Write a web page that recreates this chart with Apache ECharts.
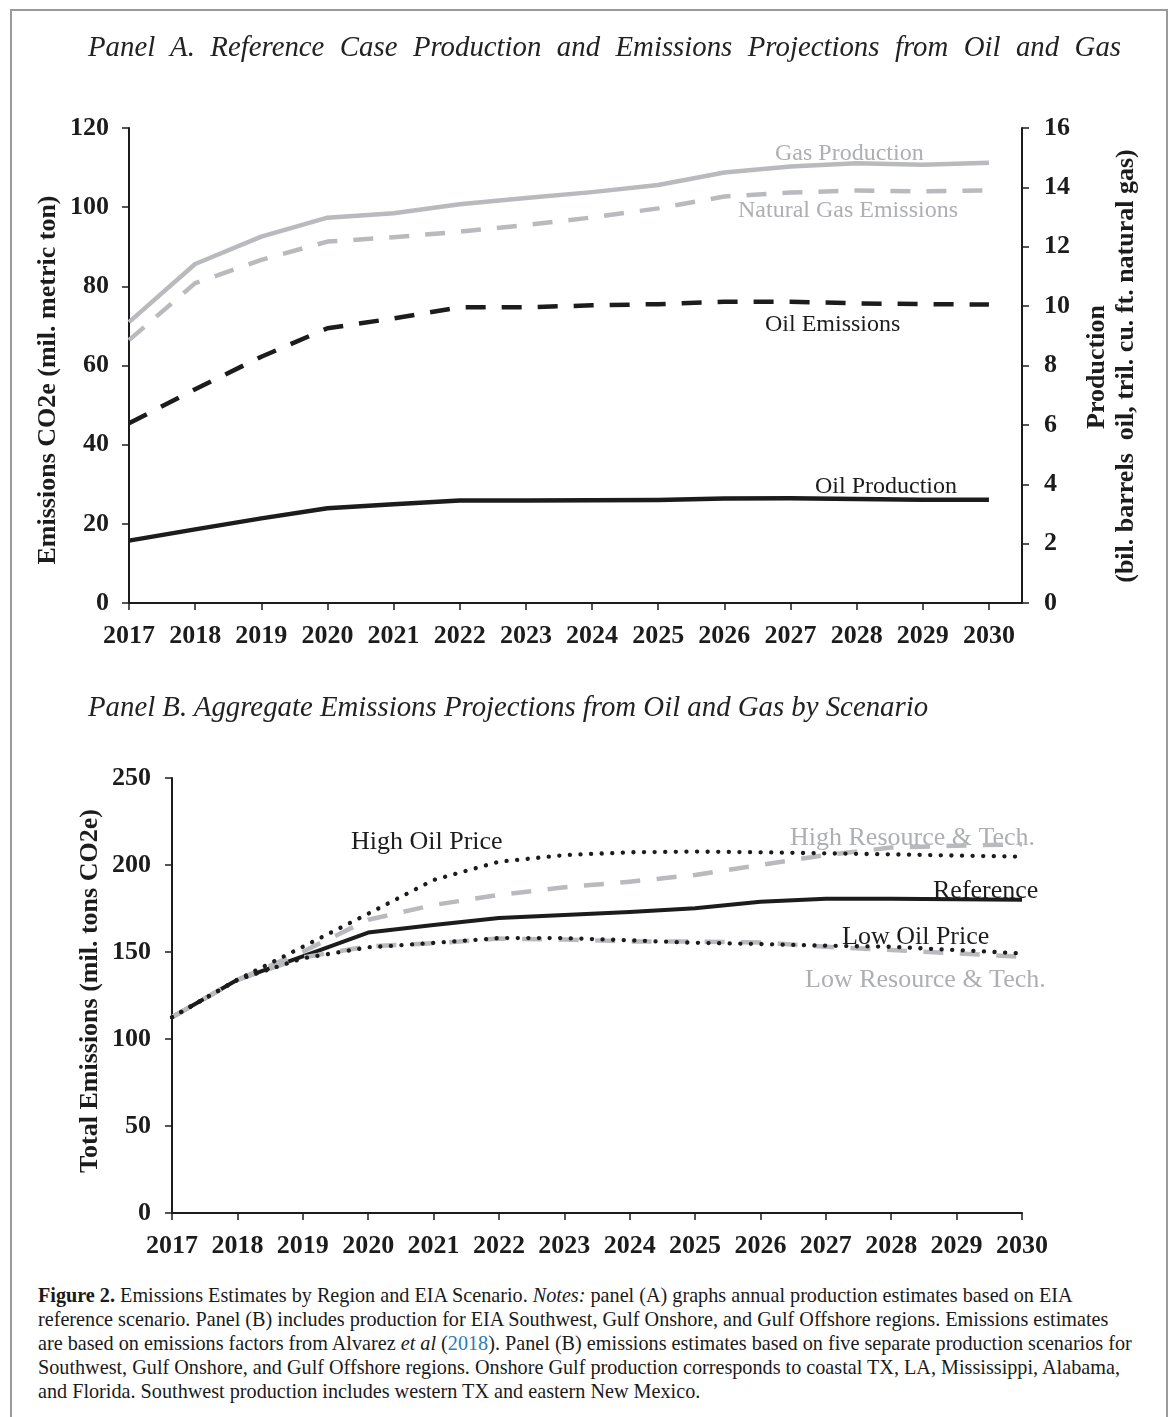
<!DOCTYPE html>
<html>
<head>
<meta charset="utf-8">
<script src="https://cdn.jsdelivr.net/npm/echarts@6/dist/echarts.min.js"></script>
<style>
  html, body { margin: 0; padding: 0; background: #fff; }
  #page { position: relative; width: 1173px; height: 1417px; overflow: hidden; background: #fff; }
  #frame { position: absolute; left: 10px; top: 9px; width: 1154px; height: 1420px;
           border-left: 2px solid #9a9a9a; border-right: 2px solid #9a9a9a; border-top: 2px solid #9a9a9a; }
  #chart { position: absolute; left: 0; top: 0; width: 1173px; height: 1280px; }
  .ptitle { position: absolute; font-family: "Liberation Serif", "DejaVu Serif", serif; font-style: italic;
            font-size: 28.8px; color: #222; white-space: nowrap; }
  #titleA { left: 88px; top: 30px; width: 1033px; text-align: justify; text-align-last: justify; }
  #titleB { left: 88px; top: 690px; }
  #caption { position: absolute; left: 38px; top: 1283px; width: 1110px; font-family: "Liberation Serif", "DejaVu Serif", serif;
             font-size: 20.2px; line-height: 24px; color: #1a1a1a; white-space: nowrap; }
  #caption a { color: #2b7bb9; text-decoration: none; }
</style>
</head>
<body>
<div id="page">
  <div id="frame"></div>
  <div id="chart"></div>
  <div id="titleA" class="ptitle">Panel A. Reference Case Production and Emissions Projections from Oil and Gas</div>
  <div id="titleB" class="ptitle">Panel B. Aggregate Emissions Projections from Oil and Gas by Scenario</div>
  <div id="caption"><b>Figure 2.</b> Emissions Estimates by Region and EIA Scenario. <i>Notes:</i> panel (A) graphs annual production estimates based on EIA<br>reference scenario. Panel (B) includes production for EIA Southwest, Gulf Onshore, and Gulf Offshore regions. Emissions estimates<br>are based on emissions factors from Alvarez <i>et al</i> (<a>2018</a>). Panel (B) emissions estimates based on five separate production scenarios for<br>Southwest, Gulf Onshore, and Gulf Offshore regions. Onshore Gulf production corresponds to coastal TX, LA, Mississippi, Alabama,<br>and Florida. Southwest production includes western TX and eastern New Mexico.</div>
</div>
<script>
// ---------- Data ----------
const years = [2017, 2018, 2019, 2020, 2021, 2022, 2023, 2024, 2025, 2026, 2027, 2028, 2029, 2030];

// Panel A (emissions: mil. metric ton CO2e, left axis; production: right axis)
const gasProduction       = [9.46, 11.42, 12.34, 12.98, 13.13, 13.43, 13.64, 13.84, 14.08, 14.50, 14.70, 14.81, 14.76, 14.83];
const naturalGasEmissions = [66.4, 80.8, 86.7, 91.3, 92.4, 93.8, 95.5, 97.4, 99.7, 102.7, 103.7, 104.2, 104.0, 104.2];
const oilEmissions        = [45.4, 54.0, 62.2, 69.4, 71.9, 74.7, 74.7, 75.2, 75.5, 76.1, 76.1, 75.7, 75.5, 75.4];
const oilProduction       = [2.10, 2.48, 2.85, 3.19, 3.33, 3.45, 3.45, 3.46, 3.47, 3.52, 3.53, 3.50, 3.48, 3.48];

// Panel B (total emissions, mil. tons CO2e)
const reference    = [112.5, 134, 147.5, 161.2, 165.5, 169.6, 171.3, 173.0, 175.1, 178.9, 180.6, 180.6, 180.3, 180.0];
const highOilPrice = [112.5, 134, 153.0, 172.0, 191.4, 201.9, 205.7, 207.3, 207.7, 207.3, 206.7, 206.1, 205.4, 204.8];
const highResource = [112.5, 134, 150.2, 168.5, 177.0, 182.8, 187.2, 190.4, 194.3, 200.0, 205.7, 210.0, 211.1, 211.9];
const lowOilPrice  = [112.5, 134, 146.4, 152.7, 155.2, 158.0, 158.0, 156.7, 155.3, 154.6, 153.6, 153.0, 151.1, 149.2];
const lowResource  = [112.5, 134, 146.8, 153.3, 155.0, 157.7, 157.2, 156.1, 156.0, 155.5, 153.0, 151.1, 149.2, 147.3];

// Tick settings
const leftTicksA  = { min: 0, max: 120, interval: 20 };
const rightTicksA = { min: 0, max: 16, interval: 2 };
const ticksB      = { min: 0, max: 250, interval: 50 };

// ---------- Styles ----------
const BLACK = '#1c1c1c';
const GREY = '#b9babd';
const GREY_TEXT = '#aeafb2';
const SERIF = '"Liberation Serif", "DejaVu Serif", serif';

function pairs(vals) { return years.map((y, i) => [y, vals[i]]); }

const axisLine = { show: true, lineStyle: { color: BLACK, width: 2 } };
const axisTick = { show: true, length: 7, lineStyle: { color: BLACK, width: 1.5 } };
const tickLabel = (margin) => ({ color: BLACK, fontFamily: SERIF, fontWeight: 'bold', fontSize: 26, margin: margin });
const yearFmt = v => (Number.isInteger(v) ? String(v) : '');

function lineSeries(name, data, xi, yi, color, width, type, cap) {
  return {
    name, type: 'line', xAxisIndex: xi, yAxisIndex: yi, data: pairs(data),
    symbol: 'none', smooth: false, silent: true,
    lineStyle: { color, width, type, cap: cap || 'butt', join: 'round' }
  };
}

function label(text, x, y, color, size) {
  return { type: 'text', x, y, silent: true,
    style: { text, fill: color, font: size + 'px ' + SERIF, align: 'left', verticalAlign: 'middle' } };
}
function vlabel(text, x, y) {
  return { type: 'text', x, y, rotation: Math.PI / 2, silent: true,
    style: { text, fill: BLACK, font: 'bold 26px ' + SERIF, align: 'center', verticalAlign: 'middle' } };
}

const chart = echarts.init(document.getElementById('chart'), null, { renderer: 'canvas' });
chart.setOption({
  animation: false,
  backgroundColor: 'transparent',
  grid: [
    { left: 129, top: 128, width: 893, height: 475 },
    { left: 172, top: 778, width: 850, height: 435 }
  ],
  xAxis: [
    { type: 'value', gridIndex: 0, min: 2017, max: 2030.5, interval: 1,
      axisLine, axisTick, splitLine: { show: false },
      axisLabel: Object.assign(tickLabel(20), { formatter: yearFmt, showMaxLabel: false }) },
    { type: 'value', gridIndex: 1, min: 2017, max: 2030, interval: 1,
      axisLine, axisTick, splitLine: { show: false },
      axisLabel: Object.assign(tickLabel(20), { formatter: yearFmt }) }
  ],
  yAxis: [
    Object.assign({ type: 'value', gridIndex: 0, position: 'left',
      axisLine, axisTick, splitLine: { show: false }, axisLabel: tickLabel(20) }, leftTicksA),
    Object.assign({ type: 'value', gridIndex: 0, position: 'right',
      axisLine, axisTick, splitLine: { show: false }, axisLabel: tickLabel(22) }, rightTicksA),
    Object.assign({ type: 'value', gridIndex: 1, position: 'left',
      axisLine, axisTick, splitLine: { show: false }, axisLabel: tickLabel(21) }, ticksB)
  ],
  series: [
    lineSeries('Oil Production', oilProduction, 0, 1, BLACK, 4.5, 'solid'),
    lineSeries('Oil Emissions', oilEmissions, 0, 0, BLACK, 4.5, [20, 16]),
    lineSeries('Natural Gas Emissions', naturalGasEmissions, 0, 0, GREY, 4.5, [20, 16]),
    lineSeries('Gas Production', gasProduction, 0, 1, GREY, 4.5, 'solid'),

    lineSeries('Reference', reference, 1, 2, BLACK, 4, 'solid'),
    lineSeries('High Resource & Tech.', highResource, 1, 2, GREY, 4.5, [20, 16.5]),
    lineSeries('Low Resource & Tech.', lowResource, 1, 2, GREY, 4.5, [20, 16.5]),
    lineSeries('High Oil Price', highOilPrice, 1, 2, BLACK, 4.3, [0.1, 10.5], 'round'),
    lineSeries('Low Oil Price', lowOilPrice, 1, 2, BLACK, 4.3, [0.1, 10.5], 'round')
  ],
  graphic: [
    label('Gas Production', 775, 154, GREY_TEXT, 24),
    label('Natural Gas Emissions', 738, 211, GREY_TEXT, 24),
    label('Oil Emissions', 765, 325, BLACK, 24),
    label('Oil Production', 815, 487, BLACK, 24),
    label('High Oil Price', 351, 842, BLACK, 26),
    label('High Resource & Tech.', 790, 838, GREY_TEXT, 26),
    label('Reference', 933, 891, BLACK, 26),
    label('Low Oil Price', 842, 937, BLACK, 26),
    label('Low Resource & Tech.', 805, 980, GREY_TEXT, 26),
    vlabel('Emissions CO2e (mil. metric ton)', 48, 380),
    vlabel('Production', 1097, 367),
    vlabel('(bil. barrels  oil, tril. cu. ft. natural gas)', 1126, 366),
    vlabel('Total Emissions (mil. tons CO2e)', 90, 991)
  ]
});
</script>
</body>
</html>
